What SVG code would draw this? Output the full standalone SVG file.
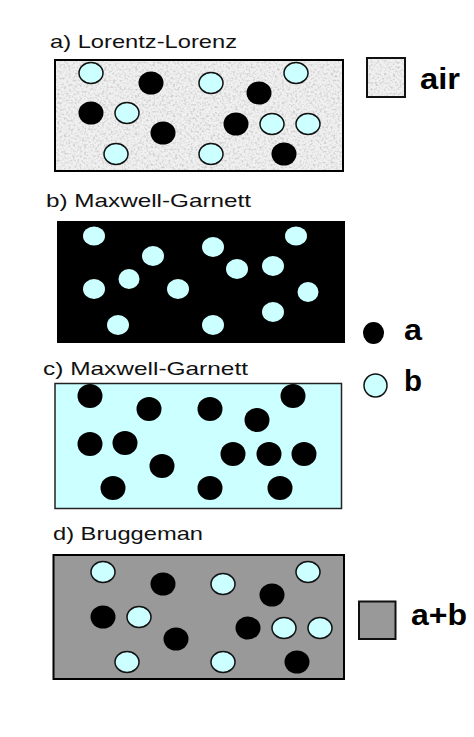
<svg xmlns="http://www.w3.org/2000/svg" width="474" height="737" viewBox="0 0 474 737">
<defs>
<style>
.title{font-family:"Liberation Sans",Arial,sans-serif;font-size:19px;fill:#111}
.leg{font-family:"Liberation Sans",Arial,sans-serif;font-weight:bold;font-size:29px;fill:#000}
.cb{fill:#ccffff;stroke:#111;stroke-width:1.5}
.cn{fill:#ccffff}
.bk{fill:#000}
.tex{fill:#fff;filter:url(#noise)}
</style>
<filter id="noise" x="0" y="0" width="100%" height="100%" color-interpolation-filters="sRGB">
<feTurbulence type="fractalNoise" baseFrequency="0.45" numOctaves="2" seed="7" result="t"/>
<feColorMatrix in="t" type="matrix" values="0 0 0 0 0.8  0 0 0 0 0.8  0 0 0 0 0.8  3 0 0 0 -1.4" result="n"/>
<feComposite in="n" in2="SourceGraphic" operator="in"/>
</filter>
</defs>
<rect width="474" height="737" fill="#fff"/>

<g id="panel-a">
<text class="title" x="50" y="48" textLength="187" lengthAdjust="spacingAndGlyphs">a) Lorentz-Lorenz</text>
<rect x="55" y="60" width="288" height="111" fill="#f0f0f0" stroke="#000" stroke-width="2"/>
<rect class="tex" x="56" y="61" width="286" height="109"/>
<ellipse class="cb" cx="91" cy="73" rx="12" ry="10.5"/>
<ellipse class="bk" cx="151" cy="83" rx="12.5" ry="11.5"/>
<ellipse class="cb" cx="211" cy="83" rx="12" ry="10.5"/>
<ellipse class="cb" cx="296" cy="73" rx="12" ry="10.5"/>
<ellipse class="bk" cx="259" cy="93" rx="12.5" ry="11.5"/>
<ellipse class="bk" cx="91" cy="113" rx="12.5" ry="11.5"/>
<ellipse class="cb" cx="127" cy="113" rx="12" ry="10.5"/>
<ellipse class="bk" cx="163" cy="133" rx="12.5" ry="11.5"/>
<ellipse class="bk" cx="236" cy="124" rx="12.5" ry="11.5"/>
<ellipse class="cb" cx="272" cy="124" rx="12" ry="10.5"/>
<ellipse class="cb" cx="308" cy="124" rx="12" ry="10.5"/>
<ellipse class="cb" cx="116" cy="154" rx="12" ry="10.5"/>
<ellipse class="cb" cx="211" cy="154" rx="12" ry="10.5"/>
<ellipse class="bk" cx="284" cy="154" rx="12.5" ry="11.5"/>
</g>

<g id="panel-b">
<text class="title" x="46" y="207" textLength="205" lengthAdjust="spacingAndGlyphs">b) Maxwell-Garnett</text>
<rect x="57" y="221" width="288" height="122" fill="#000"/>
<ellipse class="cn" cx="94" cy="236" rx="11" ry="9.5"/>
<ellipse class="cn" cx="153" cy="256" rx="11" ry="10"/>
<ellipse class="cn" cx="213" cy="247" rx="11" ry="10"/>
<ellipse class="cn" cx="296" cy="236" rx="11" ry="9.5"/>
<ellipse class="cn" cx="237" cy="269" rx="11" ry="10"/>
<ellipse class="cn" cx="273" cy="266" rx="11" ry="10"/>
<ellipse class="cn" cx="94" cy="289" rx="11" ry="10"/>
<ellipse class="cn" cx="129" cy="279" rx="10.5" ry="10"/>
<ellipse class="cn" cx="178" cy="289" rx="11" ry="10"/>
<ellipse class="cn" cx="308" cy="292" rx="10.5" ry="10"/>
<ellipse class="cn" cx="273" cy="312" rx="11" ry="10"/>
<ellipse class="cn" cx="118" cy="325" rx="11" ry="10"/>
<ellipse class="cn" cx="213" cy="325" rx="11" ry="10"/>
</g>

<g id="panel-c">
<text class="title" x="43" y="375" textLength="205" lengthAdjust="spacingAndGlyphs">c) Maxwell-Garnett</text>
<rect x="55" y="383.5" width="286.5" height="125" fill="#ccffff" stroke="#222" stroke-width="1.5"/>
<ellipse class="bk" cx="90" cy="396" rx="12.5" ry="12"/>
<ellipse class="bk" cx="149" cy="409" rx="12.5" ry="12"/>
<ellipse class="bk" cx="210" cy="409" rx="12.5" ry="12"/>
<ellipse class="bk" cx="293" cy="396" rx="12.5" ry="12"/>
<ellipse class="bk" cx="257" cy="420" rx="12.5" ry="12"/>
<ellipse class="bk" cx="90" cy="444" rx="12.5" ry="12"/>
<ellipse class="bk" cx="125" cy="443" rx="12.5" ry="12"/>
<ellipse class="bk" cx="162" cy="466" rx="12.5" ry="12"/>
<ellipse class="bk" cx="233" cy="454" rx="12.5" ry="12"/>
<ellipse class="bk" cx="269" cy="454" rx="12.5" ry="12"/>
<ellipse class="bk" cx="304" cy="454" rx="12.5" ry="12"/>
<ellipse class="bk" cx="113" cy="488" rx="12.5" ry="12"/>
<ellipse class="bk" cx="210" cy="488" rx="12.5" ry="12"/>
<ellipse class="bk" cx="280" cy="488" rx="12.5" ry="12"/>
</g>

<g id="panel-d">
<text class="title" x="53" y="540" textLength="150" lengthAdjust="spacingAndGlyphs">d) Bruggeman</text>
<rect x="53.5" y="555" width="290.5" height="124" fill="#999999" stroke="#000" stroke-width="2"/>
<ellipse class="cb" cx="103" cy="572" rx="12" ry="10.5"/>
<ellipse class="bk" cx="163" cy="584" rx="12.5" ry="11.5"/>
<ellipse class="cb" cx="223" cy="584" rx="12" ry="10.5"/>
<ellipse class="cb" cx="308" cy="572" rx="12" ry="10.5"/>
<ellipse class="bk" cx="272" cy="595" rx="12.5" ry="11.5"/>
<ellipse class="bk" cx="103" cy="617" rx="12.5" ry="11.5"/>
<ellipse class="cb" cx="139" cy="617" rx="12" ry="10.5"/>
<ellipse class="bk" cx="176" cy="639" rx="12.5" ry="11.5"/>
<ellipse class="bk" cx="248" cy="628" rx="12.5" ry="11.5"/>
<ellipse class="cb" cx="284" cy="628" rx="12" ry="10.5"/>
<ellipse class="cb" cx="320" cy="628" rx="12" ry="10.5"/>
<ellipse class="cb" cx="127" cy="662" rx="12" ry="10.5"/>
<ellipse class="cb" cx="223" cy="662" rx="12" ry="10.5"/>
<ellipse class="bk" cx="297" cy="662" rx="12.5" ry="11.5"/>
</g>

<g id="legend-air">
<rect x="367" y="58" width="38" height="39" fill="#f0f0f0" stroke="#111" stroke-width="2"/>
<rect class="tex" x="368" y="59" width="36" height="37"/>
<text class="leg" x="420" y="89" textLength="40" lengthAdjust="spacingAndGlyphs">air</text>
</g>
<g id="legend-a">
<ellipse class="bk" cx="373.5" cy="333" rx="10.5" ry="11"/>
<text class="leg" x="404" y="340" textLength="18" lengthAdjust="spacingAndGlyphs">a</text>
</g>
<g id="legend-b">
<ellipse class="cb" cx="375.5" cy="385.5" rx="11.5" ry="11.5"/>
<text class="leg" x="404" y="391" textLength="18" lengthAdjust="spacingAndGlyphs">b</text>
</g>
<g id="legend-ab">
<rect x="359" y="601.5" width="36.5" height="37.5" fill="#999999" stroke="#111" stroke-width="2"/>
<text class="leg" x="411" y="625" textLength="56" lengthAdjust="spacingAndGlyphs">a+b</text>
</g>
</svg>
